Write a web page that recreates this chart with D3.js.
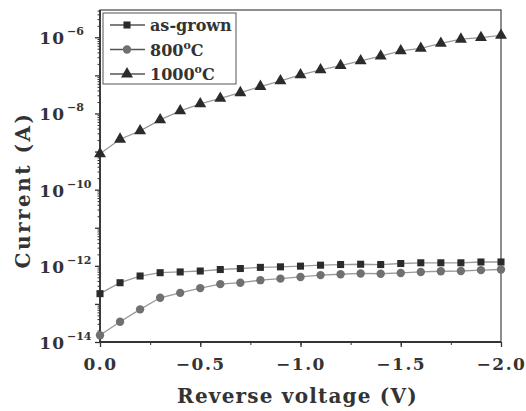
<!DOCTYPE html>
<html lang="en">
<head>
<meta charset="UTF-8">
<title>Reverse I-V</title>
<script src="https://d3js.org/d3.v7.min.js"></script>
<style>
    body { margin: 0; background: #fff; }
    svg text { font-family: "DejaVu Serif", "Liberation Serif", serif; fill: #333; }
</style>
</head>
<body>
<svg id="chart" width="526" height="411"></svg>
<script>
// data
const voltage = [0, -0.1, -0.2, -0.3, -0.4, -0.5, -0.6, -0.7, -0.8, -0.9, -1.0,
                 -1.1, -1.2, -1.3, -1.4, -1.5, -1.6, -1.7, -1.8, -1.9, -2.0];
const asGrown = [1.86e-13, 3.6e-13, 5.4e-13, 6.6e-13, 6.9e-13, 7.3e-13, 8.0e-13, 8.5e-13, 9.1e-13, 9.4e-13, 9.8e-13,
                 1.04e-12, 1.08e-12, 1.1e-12, 1.08e-12, 1.15e-12, 1.2e-12, 1.2e-12, 1.2e-12, 1.26e-12, 1.26e-12];
const t800 = [1.5e-14, 3.4e-14, 7.2e-14, 1.45e-13, 1.95e-13, 2.6e-13, 3.3e-13, 3.6e-13, 4.2e-13, 4.6e-13, 5.1e-13,
              5.7e-13, 6.0e-13, 6.3e-13, 6.2e-13, 6.5e-13, 6.9e-13, 7.2e-13, 7.3e-13, 7.7e-13, 8.0e-13];
const t1000 = [8.7e-10, 2.1e-9, 3.5e-9, 6.8e-9, 1.17e-8, 1.78e-8, 2.5e-8, 3.5e-8, 5.1e-8, 7.2e-8, 1.03e-7,
               1.4e-7, 1.8e-7, 2.4e-7, 3.2e-7, 4.4e-7, 5.1e-7, 6.9e-7, 8.9e-7, 9.8e-7, 1.12e-6];
const seriesNames = ["as-grown", "800", "1000"];
const xTicks = [0, -0.5, -1.0, -1.5, -2.0];
const yLabelExps = [-6, -8, -10, -12, -14];

const series = [
    { name: seriesNames[0], values: asGrown, shape: d3.symbolSquare, size: 50, color: "#2b2b2b", sup: false },
    { name: seriesNames[1], values: t800, shape: d3.symbolCircle, size: 55, color: "#707070", sup: true },
    { name: seriesNames[2], values: t1000, shape: d3.symbolTriangle, size: 62, color: "#2b2b2b", sup: true }
];

const margin = { top: 10, right: 25, bottom: 69, left: 100 };
const width = 526 - margin.left - margin.right;
const height = 411 - margin.top - margin.bottom;

const svg = d3.select("#chart");
const g = svg.append("g").attr("transform", `translate(${margin.left},${margin.top})`);

const x = d3.scaleLinear().domain([0, -2]).range([0, width]);
const y = d3.scaleLog().domain([1e-14, 5.2e-6]).range([height, 0]);

// minor ticks
const xMinor = d3.range(0, -2.01, -0.25);
const yMajor = d3.range(-14, -5).map(e => Math.pow(10, e));
const yMinor = [];
d3.range(-14, -5).forEach(e => {
    for (let k = 2; k <= 9; k++) {
        const v = k * Math.pow(10, e);
        if (v < y.domain()[1]) yMinor.push(v);
    }
});

g.append("g")
    .attr("transform", `translate(0,${height})`)
    .call(d3.axisBottom(x).tickValues(xMinor).tickSize(3).tickFormat(""))
    .call(a => a.select(".domain").remove())
    .selectAll("line").attr("stroke", "#333");
g.append("g")
    .attr("transform", `translate(0,${height})`)
    .call(d3.axisBottom(x).tickValues(xTicks).tickSize(5).tickFormat(d3.format(".1f")))
    .call(a => a.select(".domain").remove())
    .call(a => a.selectAll("line").attr("stroke", "#333").attr("stroke-width", 1.3))
    .call(a => a.selectAll("text")
        .attr("dy", "1.15em")
        .style("font-size", "17px")
        .style("font-weight", "bold")
        .style("letter-spacing", "1.5px")
        .attr("fill", "#4a4a4a")
        .text(d => d === 0 ? "0.0" : "\u2212" + Math.abs(d).toFixed(1)));

g.append("g")
    .call(d3.axisLeft(y).tickValues(yMinor).tickSize(2.5).tickFormat(""))
    .call(a => a.select(".domain").remove())
    .selectAll("line").attr("stroke", "#333");
g.append("g")
    .call(d3.axisLeft(y).tickValues(yMajor).tickSize(5).tickFormat(""))
    .call(a => a.select(".domain").remove())
    .selectAll("line").attr("stroke", "#333").attr("stroke-width", 1.3);

// y tick labels as 10^n
const yl = g.selectAll(".ylab").data(yLabelExps).enter().append("text")
    .attr("class", "ylab")
    .attr("x", -35)
    .attr("y", d => y(Math.pow(10, d)) + 7)
    .attr("text-anchor", "end")
    .style("font-size", "17px")
    .style("font-weight", "bold")
    .style("letter-spacing", "1px")
    .attr("fill", "#4a4a4a");
yl.append("tspan").text("10");
yl.append("tspan")
    .attr("x", -33)
    .attr("dy", -9)
    .attr("text-anchor", "start")
    .style("font-size", "11px")
    .style("letter-spacing", "0px")
    .text(d => "\u2212" + Math.abs(d));

// frame
g.append("rect")
    .attr("width", width).attr("height", height)
    .attr("fill", "none").attr("stroke", "#444").attr("stroke-width", 1.2);
g.append("line").attr("x1", 0).attr("x2", 0).attr("y1", 0).attr("y2", height)
    .attr("stroke", "#333").attr("stroke-width", 1.8);
g.append("line").attr("x1", 0).attr("x2", width).attr("y1", height).attr("y2", height)
    .attr("stroke", "#333").attr("stroke-width", 1.8);

// lines and markers
const line = d3.line().x((d, i) => x(voltage[i])).y(d => y(d));
series.forEach(s => {
    g.append("path")
        .datum(s.values)
        .attr("d", line)
        .attr("fill", "none")
        .attr("stroke", "#999")
        .attr("stroke-width", 1.3);
    g.selectAll(null).data(s.values).enter().append("path")
        .attr("transform", (d, i) => `translate(${x(voltage[i])},${y(d)})`)
        .attr("d", d3.symbol().type(s.shape).size(s.size))
        .attr("fill", s.color);
});

// legend
const legend = g.append("g").attr("transform", "translate(3,3)");
legend.append("rect")
    .attr("width", 133).attr("height", 71)
    .attr("fill", "#fff").attr("stroke", "#555").attr("stroke-width", 1);
series.forEach((s, i) => {
    const ly = 12 + i * 24.5;
    legend.append("line")
        .attr("x1", 7).attr("x2", 42).attr("y1", ly).attr("y2", ly)
        .attr("stroke", "#555").attr("stroke-width", 1.3);
    legend.append("path")
        .attr("transform", `translate(24,${ly})`)
        .attr("d", d3.symbol().type(s.shape).size(s.size))
        .attr("fill", s.color);
    const t = legend.append("text")
        .attr("x", 47).attr("y", ly + 6)
        .style("font-size", "16px")
        .style("font-weight", "bold")
        .attr("fill", "#4a4a4a");
    t.append("tspan").text(s.name);
    if (s.sup) {
        t.append("tspan").attr("dy", -7).style("font-size", "11px").text("o");
        t.append("tspan").attr("dy", 7).text("C");
    }
});

// axis titles
svg.append("text")
    .attr("x", margin.left + width / 2 - 3)
    .attr("y", 403)
    .attr("text-anchor", "middle")
    .style("font-size", "20px")
    .style("font-weight", "bold")
    .style("letter-spacing", "1.2px")
    .attr("fill", "#4a4a4a")
    .text("Reverse voltage (V)");
svg.append("text")
    .attr("transform", `translate(30,${margin.top + height / 2 + 14}) rotate(-90)`)
    .attr("text-anchor", "middle")
    .style("font-size", "20px")
    .style("font-weight", "bold")
    .style("letter-spacing", "2.5px")
    .attr("fill", "#4a4a4a")
    .text("Current (A)");
</script>
</body>
</html>
